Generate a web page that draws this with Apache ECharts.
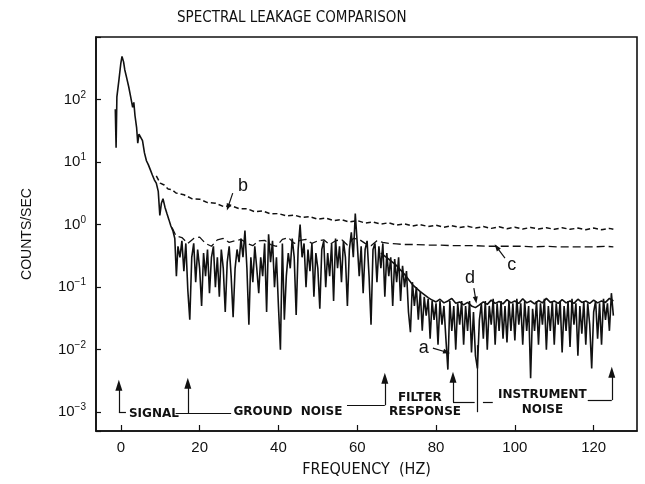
<!DOCTYPE html>
<html>
<head>
<meta charset="utf-8">
<script src="https://cdn.jsdelivr.net/npm/echarts@6.0.0/dist/echarts.min.js"></script>
<style>
html, body { margin: 0; padding: 0; background: #fff; }
#chart { width: 645px; height: 484px; }
</style>
</head>
<body>
<div id="chart"></div>
<script>
// curve a: raw spectrum (Hz, counts/sec)
var freqA = [-1.4, -1.2, -1.0, -0.5, 0.0, 0.3, 0.7, 1.0, 1.5, 2.0, 2.5, 3.0, 3.3, 3.6, 4.0, 4.3, 4.6, 5.0, 5.5, 6.0,
  6.5, 7.0, 7.5, 8.0, 8.5, 9.0, 9.5, 9.9, 10.3, 10.7, 11.2, 11.7, 12.2, 12.7, 13.2, 13.7, 14.1, 14.5, 15.0, 15.5,
  16.0, 16.5, 17.0, 17.5, 18.0, 18.5, 19.0, 19.5, 20.0, 20.5, 21.0, 21.5, 22.0, 22.5, 23.0, 23.5, 24.0, 24.5, 25.0, 25.5,
  26.0, 26.5, 27.0, 27.5, 28.0, 28.5, 29.0, 29.5, 30.0, 30.5, 31.0, 31.5, 32.0, 32.5, 33.0, 33.5, 34.0, 34.5, 35.0, 35.5,
  36.0, 36.5, 37.0, 37.5, 38.0, 38.5, 39.0, 39.5, 40.0, 40.5, 41.0, 41.5, 42.0, 42.5, 43.0, 43.5, 44.0, 44.5, 45.0, 45.5,
  46.0, 46.5, 47.0, 47.5, 48.0, 48.5, 49.0, 49.5, 50.0, 50.5, 51.0, 51.5, 52.0, 52.5, 53.0, 53.5, 54.0, 54.5, 55.0, 55.5,
  56.0, 56.5, 57.0, 57.5, 58.0, 58.5, 59.0, 59.5, 60.0, 60.5, 61.0, 61.5, 62.0, 62.5, 63.0, 63.5, 64.0, 64.5, 65.0, 65.5,
  66.0, 66.5, 67.0, 67.5, 68.0, 68.5, 69.0, 69.5, 70.0, 70.5, 71.0, 71.5, 72.0, 72.5, 73.0, 73.5, 74.0, 74.5, 75.0, 75.5,
  76.0, 76.5, 77.0, 77.5, 78.0, 78.5, 79.0, 79.5, 80.0, 80.5, 81.0, 81.5, 82.0, 82.5, 83.0, 83.5, 84.0, 84.5, 85.0, 85.5,
  86.0, 86.5, 87.0, 87.5, 88.0, 88.5, 89.0, 89.5, 90.0, 90.5, 91.0, 91.5, 92.0, 92.5, 93.0, 93.5, 94.0, 94.5, 95.0, 95.5,
  96.0, 96.5, 97.0, 97.5, 98.0, 98.5, 99.0, 99.5, 100.0, 100.5, 101.0, 101.5, 102.0, 102.5, 103.0, 103.5, 104.0, 104.5, 105.0, 105.5,
  106.0, 106.5, 107.0, 107.5, 108.0, 108.5, 109.0, 109.5, 110.0, 110.5, 111.0, 111.5, 112.0, 112.5, 113.0, 113.5, 114.0, 114.5, 115.0, 115.5,
  116.0, 116.5, 117.0, 117.5, 118.0, 118.5, 119.0, 119.5, 120.0, 120.5, 121.0, 121.5, 122.0, 122.5, 123.0, 123.5, 124.0, 124.5, 125.0];
var countsA = [70, 17, 110, 200, 380, 490, 400, 300, 220, 160, 110, 75, 90, 55, 36, 20, 28, 30, 22, 14,
  10.5, 9, 7.5, 6.2, 5.2, 4.6, 3.4, 1.4, 2.2, 2.6, 1.9, 1.5, 1.2, 0.95, 0.8, 0.6, 0.15, 0.45, 0.3, 0.55,
  0.18, 0.5, 0.09, 0.03, 0.3, 0.5, 0.12, 0.4, 0.2, 0.05, 0.35, 0.15, 0.4, 0.08, 0.3, 0.45, 0.1, 0.3, 0.07, 0.4,
  0.2, 0.04, 0.25, 0.45, 0.15, 0.033, 0.2, 0.4, 0.25, 0.6, 0.3, 0.8, 0.2, 0.025, 0.3, 0.12, 0.45, 0.2, 0.08, 0.3,
  0.15, 0.5, 0.04, 0.7, 0.25, 0.55, 0.1, 0.3, 0.05, 0.01, 0.5, 0.03, 0.15, 0.35, 0.2, 0.6, 0.3, 0.036, 0.4, 1.0,
  0.3, 0.5, 0.1, 0.4, 0.18, 0.5, 0.07, 0.35, 0.2, 0.045, 0.4, 0.55, 0.1, 0.35, 0.15, 0.5, 0.06, 0.6, 0.2, 0.45,
  0.12, 0.55, 0.3, 0.05, 0.4, 0.75, 0.3, 1.5, 0.5, 0.15, 0.45, 0.08, 0.4, 0.55, 0.15, 0.025, 0.4, 0.5, 0.12, 0.45,
  0.2, 0.5, 0.07, 0.35, 0.15, 0.3, 0.05, 0.28, 0.12, 0.3, 0.06, 0.22, 0.1, 0.18, 0.04, 0.019, 0.12, 0.05, 0.1, 0.03,
  0.085, 0.02, 0.07, 0.035, 0.065, 0.015, 0.06, 0.03, 0.055, 0.012, 0.06, 0.025, 0.05, 0.015, 0.0048, 0.06, 0.02, 0.05, 0.01, 0.055,
  0.025, 0.06, 0.012, 0.05, 0.02, 0.06, 0.009, 0.04, 0.008, 0.005, 0.03, 0.055, 0.015, 0.06, 0.01, 0.05, 0.025, 0.065, 0.012, 0.055,
  0.02, 0.06, 0.015, 0.05, 0.013, 0.06, 0.02, 0.055, 0.014, 0.065, 0.025, 0.055, 0.012, 0.06, 0.02, 0.05, 0.0035, 0.045, 0.02, 0.06,
  0.012, 0.055, 0.025, 0.065, 0.01, 0.05, 0.02, 0.06, 0.012, 0.055, 0.025, 0.06, 0.009, 0.05, 0.02, 0.06, 0.011, 0.065, 0.025, 0.055,
  0.008, 0.05, 0.018, 0.06, 0.012, 0.055, 0.025, 0.005, 0.04, 0.06, 0.015, 0.055, 0.012, 0.065, 0.03, 0.055, 0.02, 0.08, 0.035];

// curve b
var freqB = [9, 10, 11, 12, 13, 14, 16, 18, 20, 22, 24, 26, 28, 30, 32, 34, 36, 38, 40, 42, 44, 46, 48, 50, 52, 54, 56, 58, 60, 62,
  64, 66, 68, 70, 72, 74, 76, 78, 80, 82, 84, 86, 88, 90, 92, 94, 96, 98, 100, 102, 104, 106, 108, 110, 112, 114, 116, 118, 120, 122, 124, 125];
var countsB = [6.0, 4.6, 4.3, 3.7, 3.6, 3.2, 3.0, 2.6, 2.55, 2.25, 2.2, 1.95, 2.0, 1.8, 1.8, 1.6, 1.65, 1.48, 1.5, 1.38,
  1.42, 1.3, 1.34, 1.22, 1.27, 1.16, 1.2, 1.1, 1.16, 1.06, 1.1, 1.02, 1.07, 0.98, 1.03, 0.95, 1.0, 0.93, 0.98, 0.91,
  0.96, 0.9, 0.94, 0.88, 0.93, 0.87, 0.92, 0.86, 0.91, 0.85, 0.9, 0.85, 0.89, 0.84, 0.89, 0.84, 0.88, 0.83, 0.88, 0.83, 0.87, 0.84];

// curve c
var freqC = [13, 14, 15.5, 17, 18.5, 20, 21.5, 23, 24.5, 26, 27.5, 29, 30.5, 32, 33.5, 35, 36.5, 38, 39.5, 41, 42.5, 44, 45.5, 47,
  48.5, 50, 51.5, 53, 54.5, 56, 57.5, 59, 60.5, 62, 63.5, 65, 66.5, 68, 70, 72, 75, 78, 81, 84, 87, 90, 93, 96, 99, 102,
  105, 108, 111, 114, 117, 120, 123, 125];
var countsC = [0.9, 0.66, 0.62, 0.5, 0.6, 0.63, 0.5, 0.45, 0.57, 0.6, 0.52, 0.55, 0.58, 0.5, 0.46, 0.55, 0.56, 0.48, 0.45, 0.58,
  0.62, 0.5, 0.56, 0.58, 0.5, 0.55, 0.57, 0.48, 0.55, 0.58, 0.47, 0.6, 0.58, 0.5, 0.46, 0.55, 0.52, 0.5, 0.49, 0.48,
  0.48, 0.47, 0.47, 0.46, 0.46, 0.46, 0.45, 0.45, 0.45, 0.45, 0.44, 0.45, 0.44, 0.44, 0.44, 0.44, 0.45, 0.44];

// curve d
var freqD = [66, 68, 70, 72, 74, 76, 78, 79, 80, 81, 82, 83, 84, 85, 86, 87, 88, 89, 90, 91, 92, 93, 94, 95, 96, 97, 98, 99, 100,
  101, 102, 103, 104, 105, 106, 107, 108, 109, 110, 111, 112, 113, 114, 115, 116, 117, 118, 119, 120, 121, 122, 123, 124, 125];
var countsD = [0.35, 0.28, 0.22, 0.16, 0.11, 0.085, 0.068, 0.062, 0.058, 0.064, 0.056, 0.06, 0.066, 0.055, 0.058, 0.052, 0.057, 0.05, 0.047, 0.052,
  0.058, 0.053, 0.062, 0.055, 0.059, 0.054, 0.063, 0.056, 0.06, 0.055, 0.065, 0.056, 0.06, 0.054, 0.061, 0.056, 0.066, 0.057, 0.06, 0.055,
  0.063, 0.056, 0.06, 0.055, 0.064, 0.057, 0.06, 0.055, 0.062, 0.056, 0.06, 0.057, 0.066, 0.06];

var xTicks = [0, 20, 40, 60, 80, 100, 120];

// annotation arrows [freq, from, to] (vertical, head at top)
var bandArrows = [[-0.5, 0.001, 0.0027], [17, 0.00096, 0.0029], [67, 0.00129, 0.0035], [84.3, 0.00145, 0.00363], [124.6, 0.00156, 0.00436]];
// bracket segments [f1, v1, f2, v2]
var bandLines = [[-0.5, 0.001, 1.3, 0.001], [13.9, 0.00096, 28, 0.00096], [57.4, 0.00129, 67, 0.00129],
  [84.3, 0.00145, 89.8, 0.00145], [90.4, 0.001, 90.4, 0.0118], [91.9, 0.00145, 94.4, 0.00145], [118.5, 0.00156, 124.6, 0.00156]];
// band texts [text, freq, value]
var bandTexts = [['SIGNAL', 8.4, 0.00095], ['GROUND  NOISE', 42.4, 0.001], ['FILTER', 75.9, 0.00167], ['RESPONSE', 77.2, 0.001],
  ['INSTRUMENT', 107, 0.00187], ['NOISE', 107, 0.00108]];
// curve letters [text, freq, value] and pointer arrows [f1, v1, f2, v2]
var curveTexts = [['a', 76.9, 0.0106], ['b', 31, 4.13], ['c', 99.2, 0.225], ['d', 88.6, 0.139]];
var curvePointers = [[79.2, 0.0106, 82.7, 0.0091], [28.4, 3.19, 27.2, 1.9], [97.5, 0.291, 95.4, 0.436], [89.6, 0.0964, 90.1, 0.062]];

var ink = '#111';
var font = "'Liberation Sans', 'DejaVu Sans', sans-serif";
var narrow = "'Liberation Sans Narrow', 'DejaVu Sans Condensed', 'Liberation Sans', sans-serif";

function zip(xs, ys) {
  return xs.map(function (x, i) { return [x, ys[i]]; });
}

var markLines = [];
bandArrows.forEach(function (a) {
  markLines.push([{ coord: [a[0], a[1]], symbol: 'none' }, { coord: [a[0], a[2]], symbol: 'triangle', symbolSize: [7, 11] }]);
});
bandLines.forEach(function (l) {
  markLines.push([{ coord: [l[0], l[1]], symbol: 'none' }, { coord: [l[2], l[3]], symbol: 'none' }]);
});
curvePointers.forEach(function (l) {
  markLines.push([{ coord: [l[0], l[1]], symbol: 'none' }, { coord: [l[2], l[3]], symbol: 'triangle', symbolSize: [5, 7] }]);
});

var markPoints = [];
bandTexts.forEach(function (t) {
  markPoints.push({ coord: [t[1], t[2]], label: { formatter: t[0], fontSize: 12, fontWeight: 'bold', fontFamily: "'DejaVu Sans', sans-serif" } });
});
curveTexts.forEach(function (t) {
  markPoints.push({ coord: [t[1], t[2]], label: { formatter: t[0], fontSize: 18, fontFamily: font } });
});

var chart = echarts.init(document.getElementById('chart'));
chart.setOption({
  animation: false,
  backgroundColor: '#fff',
  title: {
    text: 'SPECTRAL LEAKAGE COMPARISON',
    left: 172,
    top: 6,
    textStyle: { color: ink, fontSize: 15, fontWeight: 'normal', fontFamily: narrow }
  },
  grid: {
    left: 96, right: 8, top: 37, bottom: 53,
    show: true, borderColor: ink, borderWidth: 1.6
  },
  xAxis: {
    type: 'value',
    min: -6.3,
    max: 131,
    name: 'FREQUENCY  (HZ)',
    nameLocation: 'middle',
    nameGap: 31,
    nameTextStyle: { color: ink, fontSize: 16, fontFamily: narrow },
    axisLine: { onZero: false, lineStyle: { color: ink, width: 1.6 } },
    axisTick: { inside: true, length: 6, customValues: xTicks, lineStyle: { color: ink, width: 1.2 } },
    axisLabel: { customValues: xTicks, color: ink, fontSize: 15, margin: 9, fontFamily: font },
    splitLine: { show: false }
  },
  yAxis: {
    type: 'log',
    logBase: 10,
    min: 0.0005,
    max: 1000,
    name: 'COUNTS/SEC',
    nameLocation: 'middle',
    nameGap: 62,
    nameTextStyle: { color: ink, fontSize: 14, fontFamily: font },
    axisLine: { onZero: false, lineStyle: { color: ink, width: 1.6 } },
    axisTick: { inside: true, length: 5, lineStyle: { color: ink, width: 1.2 } },
    axisLabel: {
      color: ink,
      margin: 10,
      formatter: function (v) {
        var e = Math.round(Math.log10(v));
        if (Math.abs(Math.log10(v) - e) > 0.01 || e > 2 || e < -3) return '';
        return '{b|10}{s|' + (e < 0 ? '\u2212' + (-e) : e) + '}';
      },
      rich: {
        b: { fontSize: 15, fontFamily: font, color: ink },
        s: { fontSize: 10, fontFamily: font, color: ink, padding: [0, 0, 9, 0] }
      }
    },
    splitLine: { show: false }
  },
  series: [
    {
      name: 'a', type: 'line', data: zip(freqA, countsA), symbol: 'none',
      lineStyle: { color: ink, width: 1.6 }, z: 3
    },
    {
      name: 'b', type: 'line', data: zip(freqB, countsB), symbol: 'none',
      lineStyle: { color: ink, width: 1.5, type: [5, 3] }
    },
    {
      name: 'c', type: 'line', data: zip(freqC, countsC), symbol: 'none',
      lineStyle: { color: ink, width: 1.3, type: [8, 4] }
    },
    {
      name: 'd', type: 'line', data: zip(freqD, countsD), symbol: 'none',
      lineStyle: { color: ink, width: 1.6 }, z: 4
    },
    {
      name: 'notes', type: 'line', data: [], silent: true, z: 5,
      markLine: {
        silent: true,
        animation: false,
        label: { show: false },
        lineStyle: { color: ink, width: 1.2, type: 'solid' },
        emphasis: { disabled: true },
        data: markLines
      },
      markPoint: {
        silent: true,
        animation: false,
        symbol: 'circle',
        symbolSize: 0,
        itemStyle: { color: 'transparent' },
        label: { show: true, position: 'inside', color: ink },
        data: markPoints
      }
    }
  ]
});
</script>
</body>
</html>
